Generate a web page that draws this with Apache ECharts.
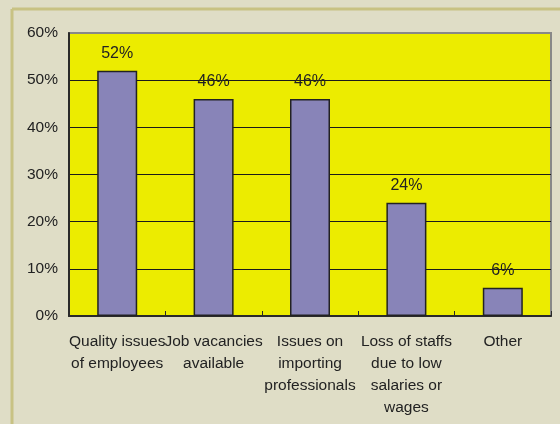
<!DOCTYPE html>
<html>
<head>
<meta charset="utf-8">
<script src="https://cdn.jsdelivr.net/npm/echarts@6/dist/echarts.min.js"></script>
<style>
  html, body { margin: 0; padding: 0; background: #dfddc6; }
  #chart { width: 560px; height: 424px; }
</style>
</head>
<body>
<div id="chart"></div>
<script>
// Reasons reported, share of respondents (%)
const categories = [
  'Quality issues\nof employees',
  'Job vacancies\navailable',
  'Issues on\nimporting\nprofessionals',
  'Loss of staffs\ndue to low\nsalaries or\nwages',
  'Other'
];
const shares = [52, 46, 46, 24, 6];
const yTicks = [0, 10, 20, 30, 40, 50, 60];

const font = 'Liberation Sans, Arial, sans-serif';
const chart = echarts.init(document.getElementById('chart'), null, { renderer: 'canvas' });

// dark gridlines, with the top one left to the grey plot border
const gridColors = yTicks.map((v, i) => i === yTicks.length - 1 ? '#888888' : '#1a1a1a');

chart.setOption({
  backgroundColor: '#dfddc6',
  animation: false,
  graphic: [
    // olive frame along the top and left edge
    { type: 'line', shape: { x1: 12, y1: 9, x2: 560, y2: 9 }, style: { stroke: '#c8c283', lineWidth: 3 }, z: 0 },
    { type: 'line', shape: { x1: 12, y1: 9, x2: 12, y2: 424 }, style: { stroke: '#c8c283', lineWidth: 3 }, z: 0 }
  ],
  grid: {
    left: 69, right: 9, top: 33, bottom: 108,
    show: true,
    backgroundColor: '#ecec00',
    borderColor: '#888888',
    borderWidth: 2
  },
  xAxis: {
    type: 'category',
    data: categories,
    axisLine: { show: true, lineStyle: { color: '#2a2a2a', width: 2 } },
    axisTick: { show: true, inside: true, length: 5, lineStyle: { color: '#2a2a2a', width: 1 } },
    axisLabel: {
      color: '#222', fontFamily: font, fontSize: 15.5, lineHeight: 22,
      margin: 15, interval: 0
    }
  },
  yAxis: {
    type: 'value',
    min: yTicks[0], max: yTicks[yTicks.length - 1], interval: 10,
    axisLine: { show: true, lineStyle: { color: '#2a2a2a', width: 2 } },
    axisTick: { show: false },
    splitLine: { show: true, lineStyle: { color: gridColors, width: 1 } },
    axisLabel: {
      color: '#222', fontFamily: font, fontSize: 15.5, margin: 11,
      formatter: v => v + '%'
    }
  },
  series: [{
    type: 'bar',
    data: shares,
    barWidth: 40,
    itemStyle: { color: '#8884b8', borderColor: '#222', borderWidth: 1.5 },
    label: {
      show: true, position: 'top', distance: 9,
      color: '#222', fontFamily: font, fontSize: 16,
      formatter: p => p.value + '%'
    }
  }]
});
</script>
</body>
</html>
